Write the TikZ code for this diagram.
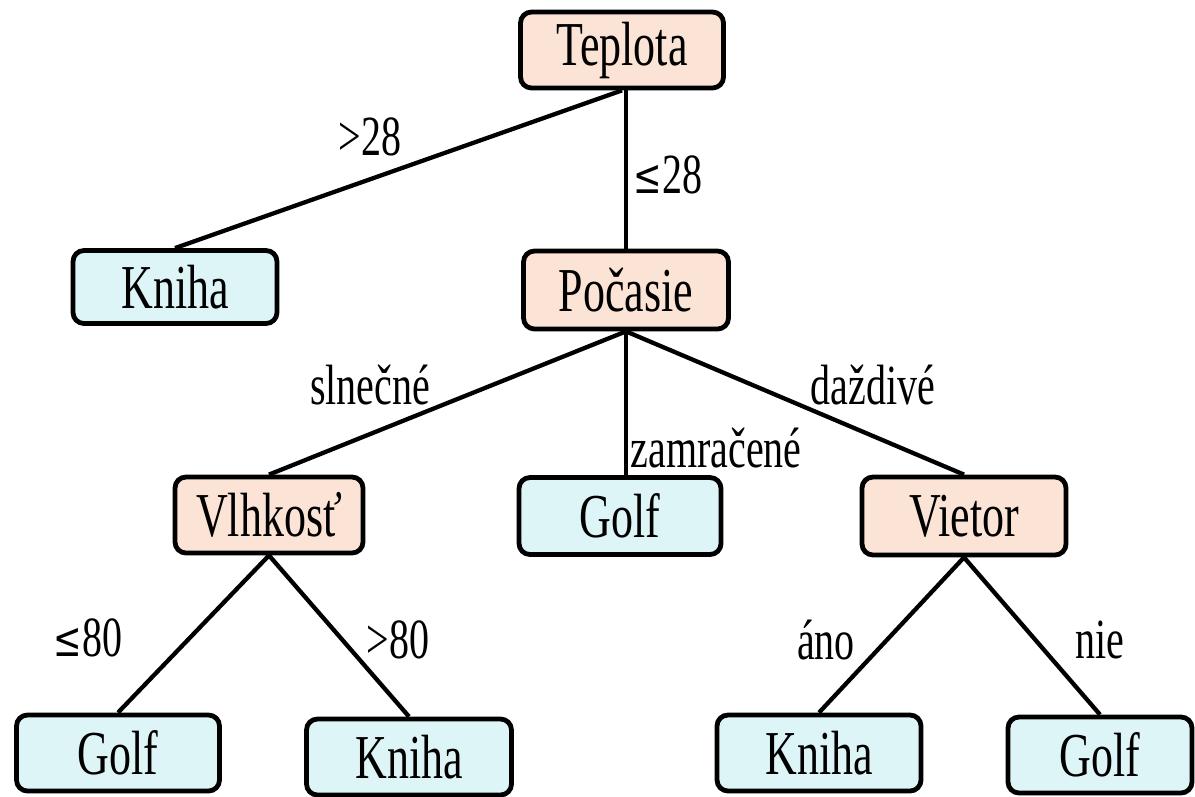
\documentclass[tikz,border=0pt]{standalone}
\usepackage{fontspec}
\usepackage{graphicx}
\setmainfont{Liberation Serif}
\newfontfamily\symf{DejaVu Serif}
\definecolor{peach}{RGB}{251,228,214}
\definecolor{ice}{RGB}{222,245,247}
\newcommand\tx[1]{\scalebox{1}[1.42]{#1}}
\newcommand\myle{{\symf\fontsize{34}{36}\selectfont ≤}}
\tikzset{
  box/.style={draw=black, line width=4.8pt, rounded corners=11pt, inner sep=0pt,
              minimum height=76pt, font=\fontsize{44}{48}\selectfont},
  attr/.style={box, fill=peach},
  leaf/.style={box, fill=ice},
  edge/.style={line width=4.3pt},
  lbl/.style={inner sep=0pt, font=\fontsize{40}{44}\selectfont}
}
\begin{document}
\begin{tikzpicture}[x=1pt,y=-1pt]
\useasboundingbox (0,0) rectangle (1195,796);
% nodes
\node[attr, minimum width=203pt] (tep) at (622,50) {\tx{Teplota}};
\node[leaf, minimum width=204pt, minimum height=73pt] (kn1) at (175,287) {\tx{Kniha}};
\node[attr, minimum width=205pt, minimum height=78pt] (poc) at (626,290) {\tx{Počasie}};
\node[attr, minimum width=188pt] (vlh) at (269,515) {\tx{Vlhkosť}};
\node[leaf, minimum width=202pt, minimum height=77pt] (gm) at (620,516) {\tx{Golf}};
\node[attr, minimum width=204pt, minimum height=78pt] (vie) at (964,516) {\tx{Vietor}};
\node[leaf, minimum width=203pt] (g1) at (118,753) {\tx{Golf}};
\node[leaf, minimum width=205pt] (k2) at (409,757) {\tx{Kniha}};
\node[leaf, minimum width=204pt] (k3) at (819,753) {\tx{Kniha}};
\node[leaf, minimum width=184pt] (g2) at (1100,755) {\tx{Golf}};
% edges
\draw[edge] (tep.south) -- (kn1.north);
\draw[edge] (tep.south -| poc.north) -- (poc.north);
\draw[edge] (poc.south) -- (vlh.north);
\draw[edge] (poc.south) -- (poc.south |- gm.north);
\draw[edge] (poc.south) -- (vie.north);
\draw[edge] (vlh.south) -- (g1.north);
\draw[edge] (vlh.south) -- (k2.north);
\draw[edge] (vie.south) -- (k3.north);
\draw[edge] (vie.south) -- (g2.north);
% labels
\node[lbl] (l1) at (370,137) {\tx{>28}};
\node[lbl] (l2) at (668,175) {\tx{\myle28}};
\node[lbl] (l3) at (370,385) {\tx{slnečné}};
\node[lbl] (l4) at (716,448) {\tx{zamračené}};
\node[lbl] (l5) at (873,385) {\tx{daždivé}};
\node[lbl] (l6) at (88,638) {\tx{\myle80}};
\node[lbl] (l7) at (398,640) {\tx{>80}};
\node[lbl] (l8) at (826,640) {\tx{áno}};
\node[lbl] (l9) at (1100,640) {\tx{nie}};
\end{tikzpicture}
\end{document}
